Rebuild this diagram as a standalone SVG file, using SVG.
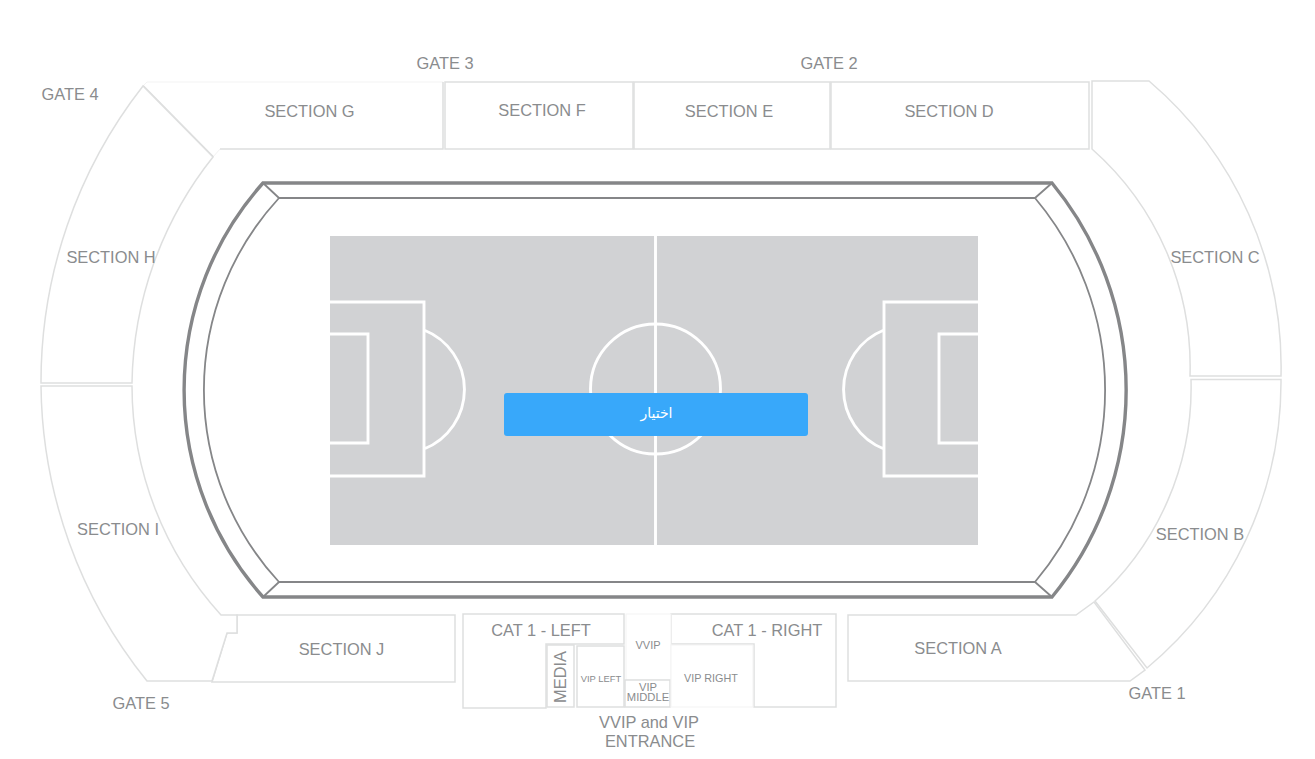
<svg xmlns="http://www.w3.org/2000/svg" width="1315" height="759" viewBox="0 0 1315 759">
<style>
.s{fill:#fff;stroke:#dedfdf;stroke-width:1.5;stroke-linejoin:miter}
.f{fill:#fff;stroke:#f3f3f3;stroke-width:1}
.sep{fill:none;stroke:#dcdddd;stroke-width:2.2}
.t{font-family:"Liberation Sans",Arial,sans-serif;font-size:16.4px;fill:#8a8c8e;text-anchor:middle}
.v{font-size:11px}
.vm{font-size:11.2px}
.vr{font-size:10.8px}
.xs{font-size:9.4px}
.pl{fill:none;stroke:#fff;stroke-width:2.9}
.w1{fill:none;stroke:#858688;stroke-width:3.4;stroke-linejoin:miter}
.w2{fill:none;stroke:#858688;stroke-width:1.8;stroke-linejoin:miter}
</style>
<rect width="1315" height="759" fill="#fff"/>
<g id="section-g"><path class="f" d="M147 82H443V149H220L213 157L143 86Z"/><path class="sep" d="M143 86L213 157"/><path class="s" d="M220 149H443V82" style="fill:none"/><text class="t" x="309.500" y="117">SECTION G</text></g>
<g id="section-f"><rect class="s" x="445" y="82" width="188" height="67"/><text class="t" x="542" y="116">SECTION F</text></g>
<g id="section-e"><rect class="s" x="634" y="82" width="196" height="67"/><text class="t" x="729" y="117">SECTION E</text></g>
<g id="section-d"><rect class="s" x="831" y="82" width="258" height="67"/><text class="t" x="949" y="117">SECTION D</text></g>
<g id="section-c"><path class="s" d="M1092 81H1149A375 375 0 0 1 1281 376H1190A290 290 0 0 0 1092 149Z"/><text class="t" x="1215" y="263">SECTION C</text></g>
<g id="section-b"><path class="s" d="M1191 379.500H1281A372 372 0 0 1 1147 668L1095 601A285 285 0 0 0 1191 379.500Z"/><text class="t" x="1200" y="540">SECTION B</text></g>
<g id="section-a"><path class="s" d="M848 615H1076L1094 602L1145 670L1130 681H848Z"/><text class="t" x="958" y="654">SECTION A</text></g>
<g id="section-j"><path class="s" d="M237 615H455V682H212L227 633H237Z"/><text class="t" x="341.500" y="655">SECTION J</text></g>
<g id="section-i"><path class="s" d="M41 386H132A340 340 0 0 0 221 615H237V633H227L212 681H147A478 478 0 0 1 41 386Z"/><text class="t" x="118" y="535">SECTION I</text></g>
<g id="section-h"><path class="s" d="M143 86L213 157A372 372 0 0 0 132 383H41A480 480 0 0 1 143 86Z"/><text class="t" x="111" y="263">SECTION H</text></g>
<g id="cat-1-left"><path class="s" d="M463 614H624V644H546V708H463Z"/><text class="t" x="541" y="636">CAT 1 - LEFT</text></g>
<g id="cat-1-right"><path class="s" d="M671 614H836V707H754V644H671Z"/><text class="t" x="767" y="636">CAT 1 - RIGHT</text></g>
<g id="media"><rect class="s" x="547" y="645" width="27" height="62"/><text class="t" transform="translate(566 677) rotate(-90)">MEDIA</text></g>
<g id="vip-left"><rect class="s" x="577" y="646" width="47" height="61"/><text class="t xs" x="601" y="682">VIP LEFT</text></g>
<g id="vvip"><rect class="f" x="626" y="614" width="45" height="66"/><text class="t v" x="648" y="649">VVIP</text></g>
<g id="vip-middle"><rect class="s" x="625" y="680" width="45" height="27"/><text class="t vm"><tspan x="648" y="690.500">VIP</tspan><tspan x="648" y="700.500">MIDDLE</tspan></text></g>
<g id="vip-right"><rect class="f" x="671" y="645" width="82" height="62"/><text class="t vr" x="711" y="682">VIP RIGHT</text></g>
<g id="pitch">
<rect x="330" y="236" width="648" height="309" fill="#d1d2d4"/>
<path class="pl" d="M655.500 236V545"/>
<circle class="pl" cx="655.500" cy="389" r="65"/>
<path class="pl" d="M330 302H424V476H330M330 334H368V443H330M424 330A64 64 0 0 1 424 449"/>
<path class="pl" d="M978 302H884V476H978M978 334H939V443H978M884 330A64 64 0 0 0 884 449"/>
</g>
<g id="stand">
<path class="w1" d="M263 183H1052A326 326 0 0 1 1052 597H263A311 311 0 0 1 263 183Z"/>
<path class="w2" d="M279 198H1035A298 298 0 0 1 1035 582H279A283 283 0 0 1 279 198ZM263 183L279 198M1052 183L1035 198M263 597L279 582M1052 597L1035 582"/>
</g>
<g id="gates">
<text class="t" x="70" y="99.500">GATE 4</text>
<text class="t" x="445" y="68.500">GATE 3</text>
<text class="t" x="829" y="68.500">GATE 2</text>
<text class="t" x="1157" y="699">GATE 1</text>
<text class="t" x="141" y="709">GATE 5</text>
<text class="t"><tspan x="649" y="728">VVIP and VIP</tspan><tspan x="650" y="747">ENTRANCE</tspan></text>
</g>
<g id="select-button">
<rect x="504" y="393" width="304" height="43" rx="3" fill="#38a8fa"/>
<text x="656.500" y="418" font-family="'DejaVu Sans',sans-serif" font-size="14" fill="#fff" text-anchor="middle" direction="rtl">اختيار</text>
</g>
</svg>
